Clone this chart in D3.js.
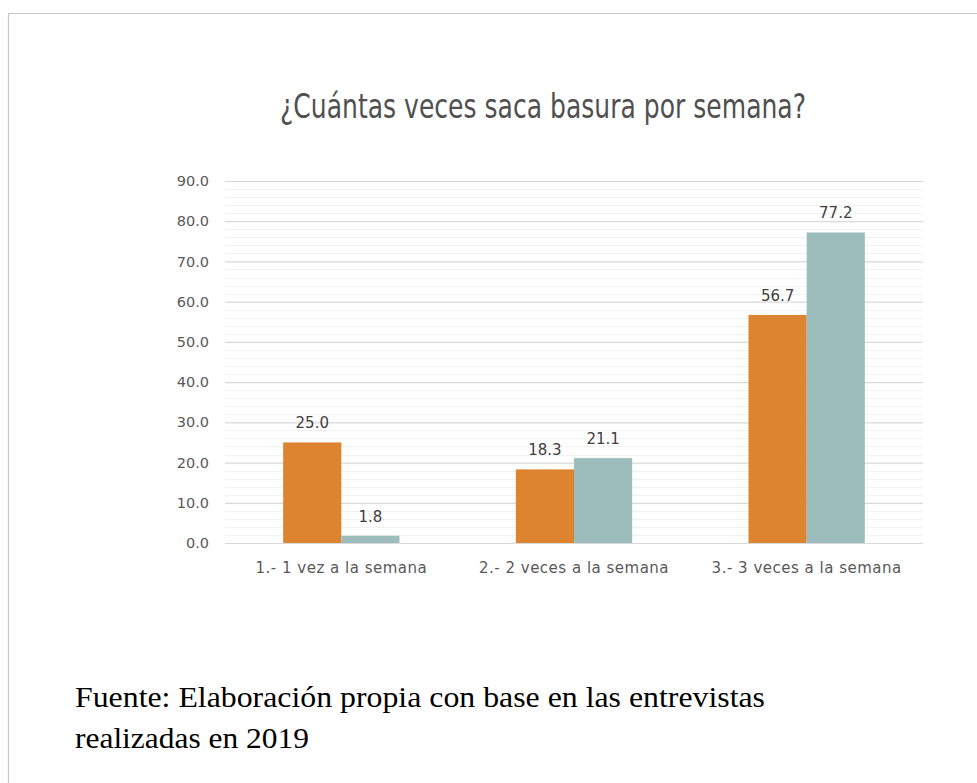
<!DOCTYPE html>
<html>
<head>
<meta charset="utf-8">
<script src="https://cdn.jsdelivr.net/npm/d3@7"></script>
<style>
  html, body { margin: 0; padding: 0; background: #fff; }
  svg { display: block; }
</style>
</head>
<body>
<svg id="chart" width="977" height="783"></svg>
<script>
// Respuestas por frecuencia semanal de recolección
const categories = ["1.- 1 vez a la semana", "2.- 2 veces a la semana", "3.- 3 veces a la semana"];
const seriesA = [25.0, 18.3, 56.7];
const seriesB = [1.8, 21.1, 77.2];
const yTicks = [0, 10, 20, 30, 40, 50, 60, 70, 80, 90];
const minorTicks = d3.range(0, 91, 2);
const title = "¿Cuántas veces saca basura por semana?";
const sourceLines = ["Fuente: Elaboración propia con base en las entrevistas", "realizadas en 2019"];
const sourceWidths = [690, 234];

const colors = ["#DC8430", "#9DBDBC"];

const svg = d3.select("#chart");

// marco
svg.append("path")
  .attr("d", "M8.5,783 L8.5,13.5 L977,13.5")
  .attr("fill", "none")
  .attr("stroke", "#c6c6c6")
  .attr("stroke-width", 1.2);

const y = d3.scaleLinear().domain([0, 90]).range([543, 181]);
const x = d3.scaleBand().domain(categories).range([225, 923]).padding(0);
const barW = x.bandwidth() * 0.25;

// líneas de cuadrícula secundarias
svg.append("g").selectAll("line")
  .data(minorTicks.filter(v => v % 10 !== 0))
  .join("line")
  .attr("x1", 225).attr("x2", 923)
  .attr("y1", d => Math.round(y(d)) + 0.5).attr("y2", d => Math.round(y(d)) + 0.5)
  .attr("stroke", "#f1f1f1").attr("stroke-width", 1);

// eje Y con líneas principales
const yAxis = d3.axisLeft(y).tickValues(yTicks).tickFormat(d3.format(".1f")).tickSize(-(923 - 225)).tickPadding(16);
const gy = svg.append("g").attr("transform", "translate(225,0)").call(yAxis);
gy.select(".domain").remove();
gy.selectAll(".tick line").attr("stroke", "#d9d9d9").attr("stroke-width", 1.2);
gy.selectAll(".tick text")
  .attr("fill", "#595959")
  .style("font-family", "'DejaVu Sans', sans-serif")
  .style("font-size", "14.5px");

// eje X
const xAxis = d3.axisBottom(x).tickSize(0).tickPadding(19);
const gx = svg.append("g").attr("transform", "translate(0,543)").call(xAxis);
gx.select(".domain").remove();
gx.selectAll(".tick text")
  .attr("fill", "#595959")
  .style("font-family", "'DejaVu Sans', sans-serif")
  .style("font-size", "15px")
  .style("letter-spacing", "0.5px");

// barras
const rows = categories.map((c, i) => ({ cat: c, vals: [seriesA[i], seriesB[i]] }));
const groups = svg.append("g").selectAll("g")
  .data(rows).join("g")
  .attr("transform", d => `translate(${x(d.cat) + x.bandwidth() / 2 - barW},0)`);

groups.selectAll("rect")
  .data(d => d.vals.map((v, k) => ({ v, k })))
  .join("rect")
  .attr("x", d => d.k * barW)
  .attr("y", d => y(d.v))
  .attr("width", barW)
  .attr("height", d => y(0) - y(d.v))
  .attr("fill", d => colors[d.k]);

groups.selectAll("text")
  .data(d => d.vals.map((v, k) => ({ v, k })))
  .join("text")
  .attr("x", d => d.k * barW + barW / 2)
  .attr("y", d => y(d.v) - 14)
  .attr("text-anchor", "middle")
  .attr("fill", "#404040")
  .style("font-family", "'DejaVu Sans', sans-serif")
  .style("font-size", "15px")
  .text(d => d3.format(".1f")(d.v));

// título
svg.append("text")
  .attr("x", 543).attr("y", 118)
  .attr("text-anchor", "middle")
  .attr("fill", "#505050")
  .attr("textLength", 526)
  .attr("lengthAdjust", "spacingAndGlyphs")
  .style("font-family", "'DejaVu Sans', sans-serif")
  .style("font-size", "33px")
  .text(title);

// fuente
svg.append("g").selectAll("text")
  .data(sourceLines).join("text")
  .attr("x", 75)
  .attr("y", (d, i) => 707 + i * 41)
  .attr("fill", "#000")
  .attr("textLength", (d, i) => sourceWidths[i])
  .attr("lengthAdjust", "spacingAndGlyphs")
  .style("font-family", "'Liberation Serif', 'Times New Roman', serif")
  .style("font-size", "29px")
  .text(d => d);
</script>
</body>
</html>
